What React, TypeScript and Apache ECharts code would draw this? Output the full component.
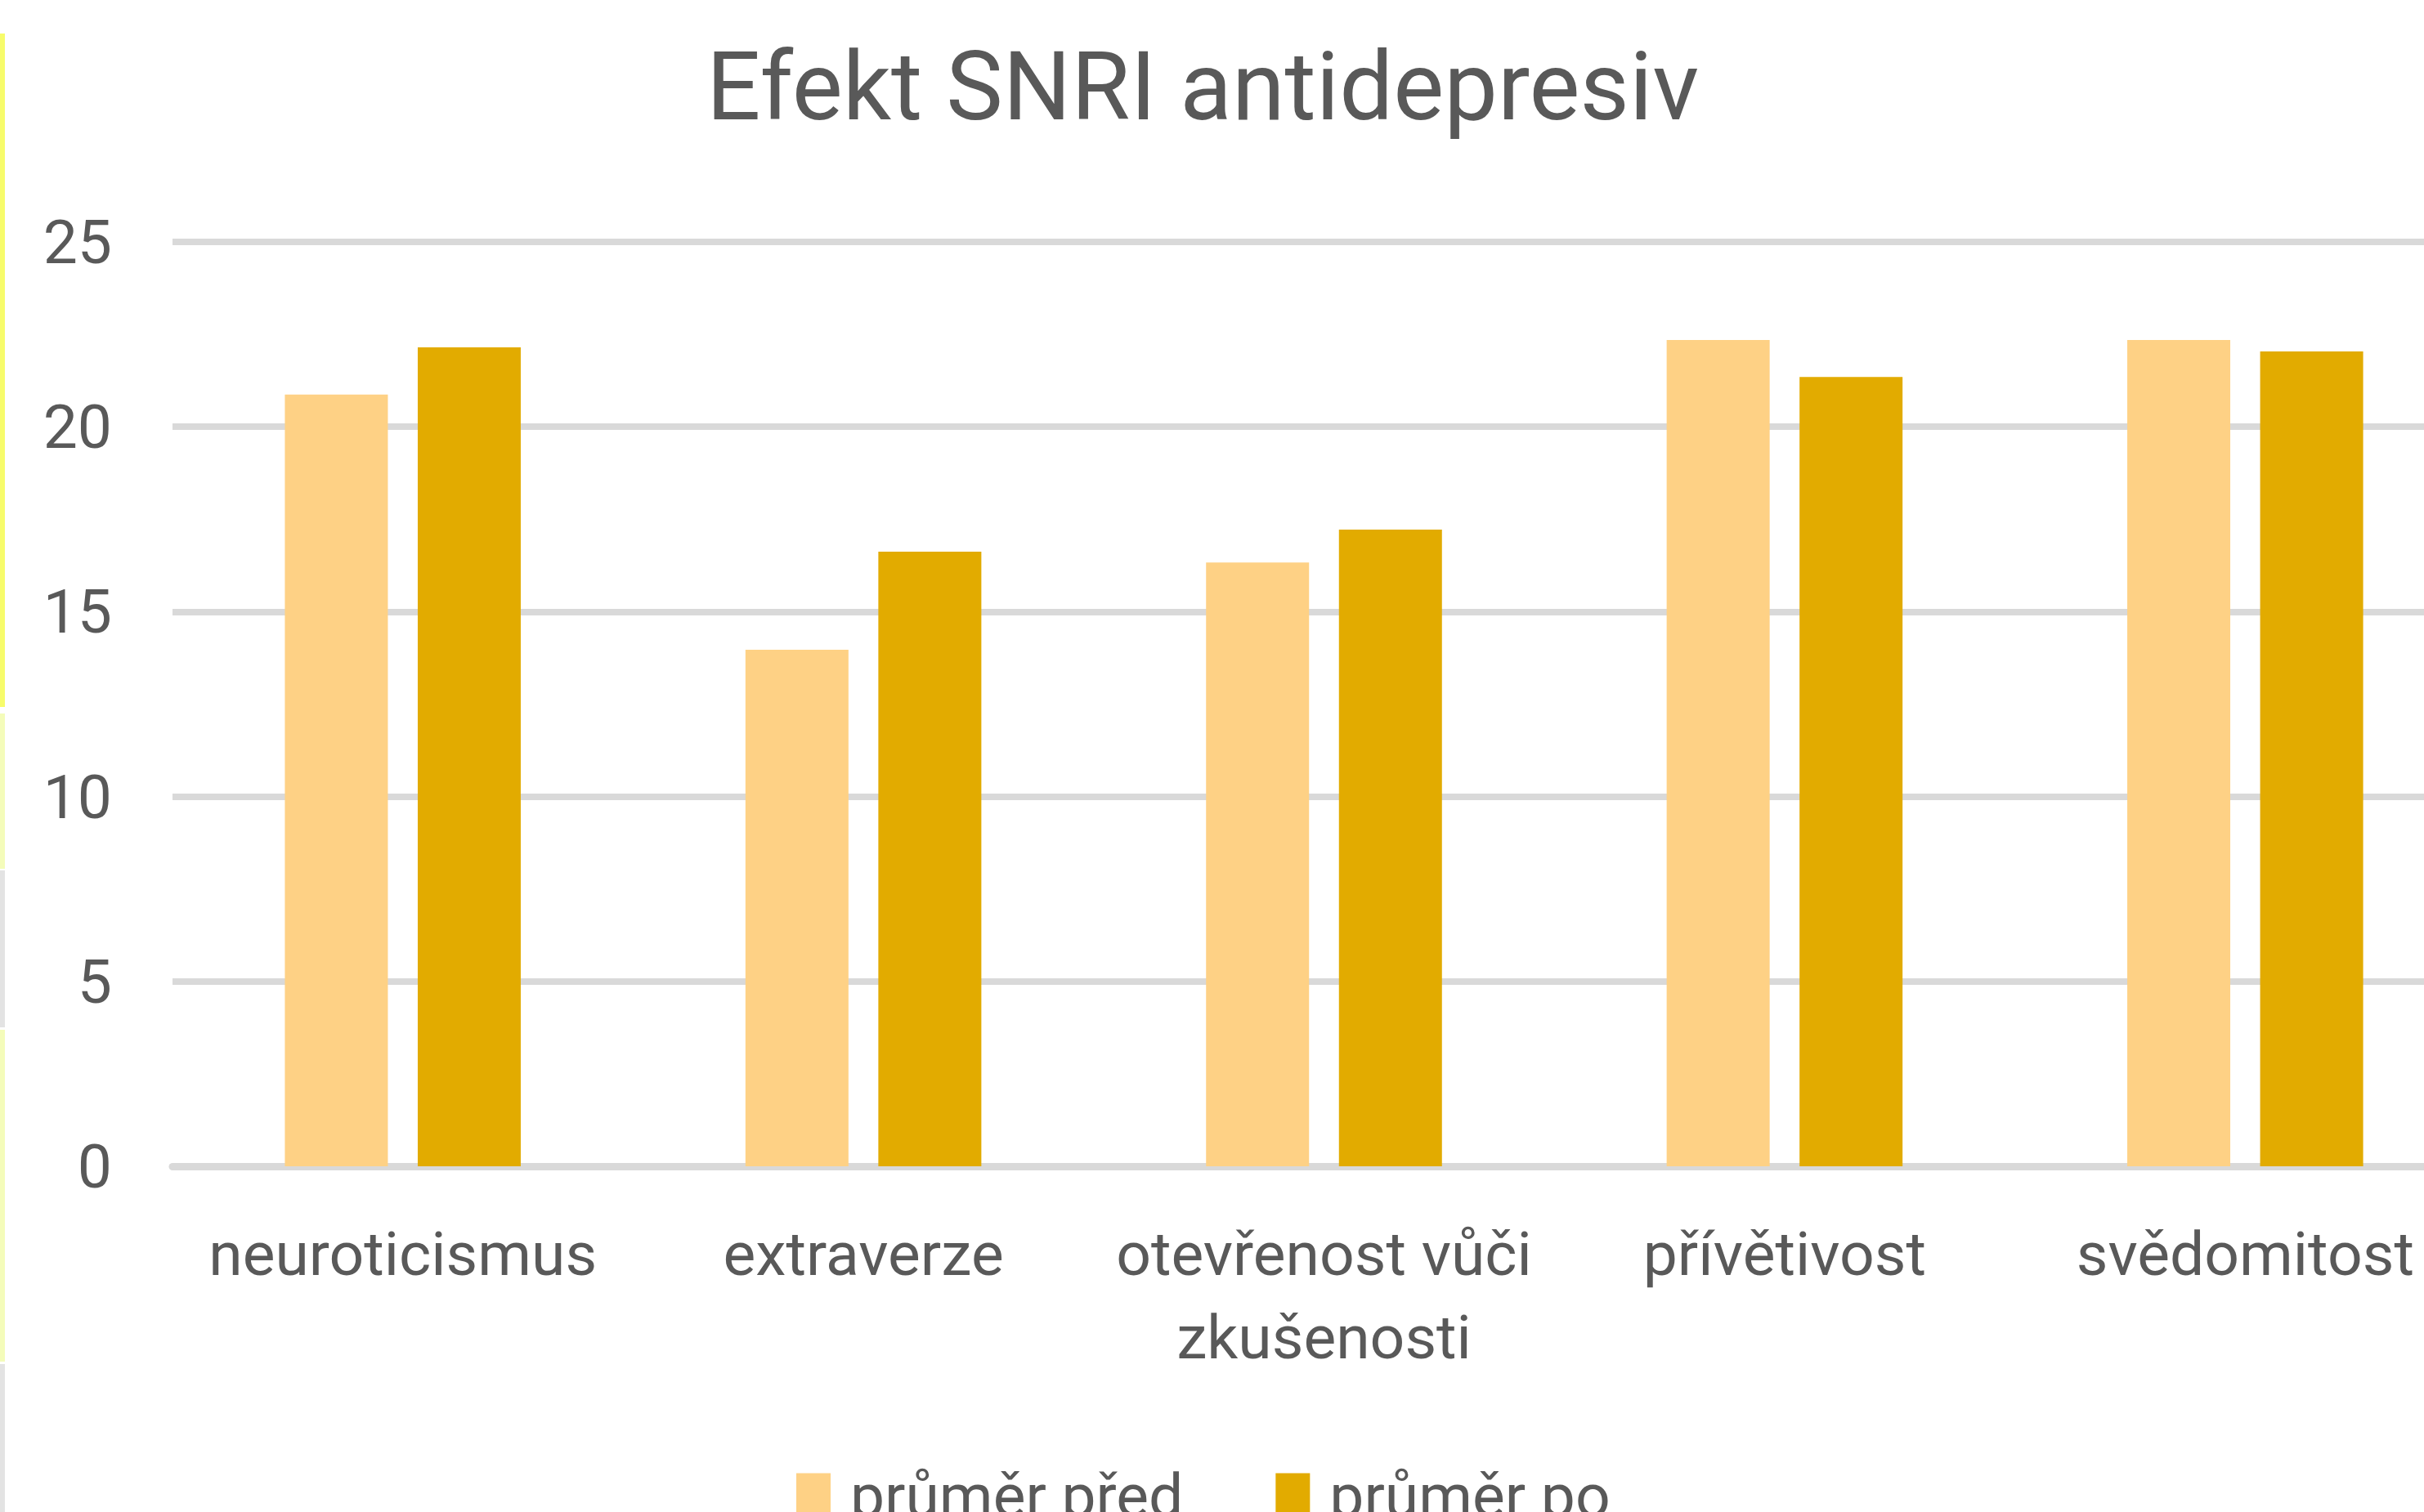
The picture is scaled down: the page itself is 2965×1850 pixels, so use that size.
import React, { useEffect, useRef } from "react";
import * as echarts from "echarts";

const categories = [
  "neuroticismus",
  "extraverze",
  "otevřenost vůči\nzkušenosti",
  "přívětivost",
  "svědomitost",
];
const seriesNames = ["průměr před", "průměr po"];
const valuesBefore = [20.87, 13.97, 16.33, 22.35, 22.35];
const valuesAfter = [22.15, 16.62, 17.22, 21.35, 22.04];
const titleText = "Efekt SNRI antidepresiv";
const colors = ["#FED185", "#E2AB00"];

const FONT = "Roboto";
const TEXT = "#595959";

export default function App() {
  const ref = useRef<HTMLDivElement>(null);
  useEffect(() => {
    if (!ref.current) return;
    const chart = echarts.init(ref.current, null, { renderer: "svg" });
    chart.setOption({
      animation: false,
      backgroundColor: "#ffffff",
      textStyle: { fontFamily: FONT },
      title: {
        text: titleText,
        left: 1466,
        top: 42,
        textAlign: "center",
        textStyle: { fontFamily: FONT, fontSize: 117, fontWeight: "normal", color: TEXT },
      },
      legend: {
        data: seriesNames,
        left: 974,
        top: 1792,
        padding: 0,
        icon: "rect",
        itemWidth: 42,
        itemHeight: 54,
        itemGap: 113,
        textStyle: {
          fontFamily: FONT,
          fontSize: 75,
          color: TEXT,
          lineHeight: 54,
          padding: [0, 0, 0, 19],
        },
      },
      grid: { left: 211, right: 12, top: 296, bottom: 423, containLabel: false },
      xAxis: {
        type: "category",
        data: categories,
        axisTick: { show: false },
        axisLine: { show: true, lineStyle: { color: "#D9D9D9", width: 9 } },
        axisLabel: {
          interval: 0,
          margin: 56,
          fontFamily: FONT,
          fontSize: 75,
          lineHeight: 102,
          color: TEXT,
        },
      },
      yAxis: {
        type: "value",
        min: 0,
        max: 25,
        interval: 5,
        axisLine: { show: false },
        axisTick: { show: false },
        splitLine: { show: true, lineStyle: { color: "#D9D9D9", width: 8 } },
        axisLabel: { margin: 74, fontFamily: FONT, fontSize: 75, color: TEXT },
      },
      series: [
        {
          name: seriesNames[0],
          type: "bar",
          data: valuesBefore,
          barWidth: 126,
          barGap: "29%",
          itemStyle: { color: colors[0] },
        },
        {
          name: seriesNames[1],
          type: "bar",
          data: valuesAfter,
          barWidth: 126,
          barGap: "29%",
          itemStyle: { color: colors[1] },
        },
      ],
      graphic: [
        { type: "rect", shape: { x: 0, y: 41, width: 6, height: 824 }, style: { fill: "#F7FC6B" } },
        { type: "rect", shape: { x: 0, y: 873, width: 6, height: 190 }, style: { fill: "#F4FCBA" } },
        { type: "rect", shape: { x: 0, y: 1065, width: 6, height: 192 }, style: { fill: "#E3E3E3" } },
        { type: "rect", shape: { x: 0, y: 1260, width: 6, height: 406 }, style: { fill: "#F4FCBA" } },
        { type: "rect", shape: { x: 0, y: 1669, width: 6, height: 181 }, style: { fill: "#E3E3E3" } },
      ],
    });
    return () => chart.dispose();
  }, []);
  return (
    <div
      style={{
        position: "fixed",
        left: 0,
        top: 0,
        width: 2965,
        height: 1850,
        overflow: "hidden",
        background: "#ffffff",
      }}
    >
      <div ref={ref} style={{ width: 3040, height: 1850 }} />
    </div>
  );
}
